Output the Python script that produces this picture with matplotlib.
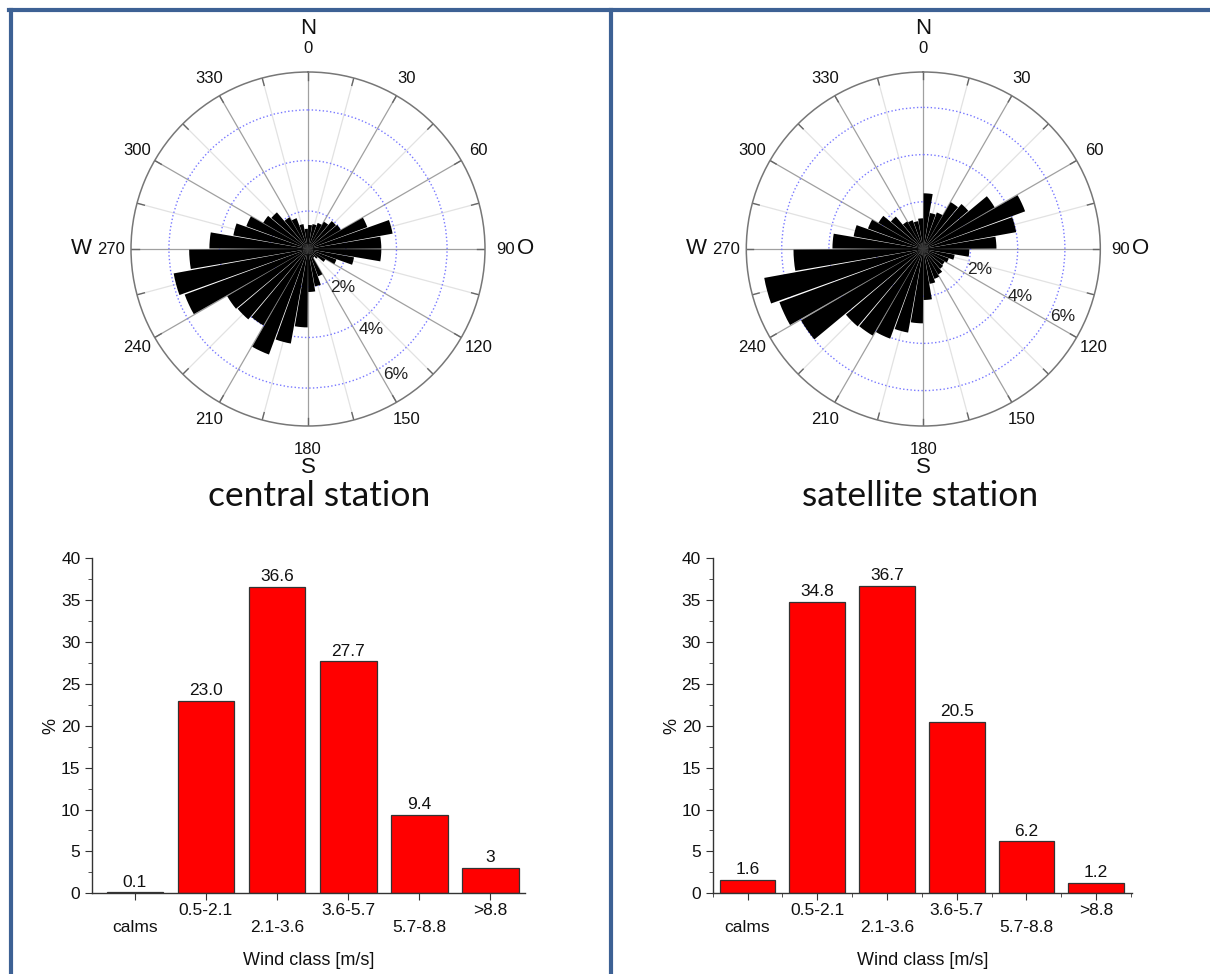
import numpy as np
import matplotlib
matplotlib.use("Agg")
import matplotlib.pyplot as plt
from matplotlib.lines import Line2D

plt.rcParams['font.family'] = ['Liberation Sans', 'DejaVu Sans']

# ---- wind direction frequency (%), sectors centred on 5, 15, ..., 355 deg ----
sector_deg = np.arange(5, 360, 10)
central_dir_pct = [1.45, 1.5, 1.6, 1.75, 1.95, 2.0, 3.0, 3.9, 3.4, 3.4,
                   2.35, 1.7, 1.3, 1.0, 0.9, 1.65, 2.0, 2.2, 3.6, 4.3,
                   4.95, 4.0, 4.15, 4.2, 5.7, 5.9, 5.2, 4.4, 3.5, 3.1,
                   2.55, 2.4, 1.95, 1.8, 1.5, 1.3]
satellite_dir_pct = [2.36, 1.55, 1.65, 2.3, 2.5, 3.5, 4.6, 4.0, 3.1, 1.95,
                     1.35, 1.15, 1.05, 1.1, 1.25, 1.35, 1.5, 2.16, 3.15, 3.6,
                     4.05, 4.25, 4.3, 6.0, 6.5, 6.85, 5.5, 3.85, 3.0, 2.5,
                     2.2, 1.8, 1.35, 1.3, 1.2, 1.3]
angle_labels = np.arange(0, 360, 30)

# ---- wind speed classes (%) ----
wind_classes = ['calms', '0.5-2.1', '2.1-3.6', '3.6-5.7', '5.7-8.8', '>8.8']
central_speed_pct = [0.1, 23.0, 36.6, 27.7, 9.4, 3]
satellite_speed_pct = [1.6, 34.8, 36.7, 20.5, 6.2, 1.2]

W, H = 1210, 974
fig = plt.figure(figsize=(W / 100, H / 100), dpi=100)


def px_rect(x0, y0, x1, y1):
    # pixel box (top-left origin) -> figure fraction rect
    return [x0 / W, 1 - y1 / H, (x1 - x0) / W, (y1 - y0) / H]


def wind_rose(rect, values, rmin, rlabel_pos, title, title_x):
    ax = fig.add_axes(rect, projection='polar')
    ax.set_theta_zero_location('N')
    ax.set_theta_direction(-1)
    rmax = 7.5
    ax.set_ylim(rmin, rmax)
    ax.set_axisbelow(True)

    th = np.deg2rad(sector_deg)
    vals = np.array(values)
    ax.bar(th, vals - rmin, width=np.deg2rad(9.4), bottom=rmin,
           color='black', edgecolor='none', zorder=3)

    # angular grid: labelled every 30 deg, light lines in between
    ax.set_thetagrids(angle_labels, [''] * len(angle_labels))
    ax.xaxis.grid(True, color='#a0a0a0', lw=0.9)
    ax.tick_params(axis='x', length=0)
    for a in range(15, 360, 30):
        ax.plot([np.deg2rad(a)] * 2, [rmin, rmax], color='#e2e2e2',
                lw=0.9, zorder=0.5)
    for a in range(0, 360, 15):
        ax.plot([np.deg2rad(a)] * 2, [rmax - 0.3, rmax], color='#666666',
                lw=1.0, zorder=1)
    for a in angle_labels:
        b = np.deg2rad(a)
        d = 0.557 if a % 180 else 0.567
        ax.text(0.5 + d * np.sin(b), 0.5 + d * np.cos(b), str(a),
                transform=ax.transAxes, ha='center', va='center',
                fontsize=12, color='#111111')

    # radial rings
    ax.set_rgrids([2, 4, 6], labels=['', '', ''])
    ax.yaxis.grid(True, color='#7878ff', ls=':', lw=1.0)
    for r, ang in zip([2, 4, 6], rlabel_pos):
        ax.text(np.deg2rad(ang), r + 0.55, f'{r}%', ha='center',
                va='center', fontsize=12.5, color='#222222', zorder=4)
    ax.spines['polar'].set_color('#777777')
    ax.spines['polar'].set_linewidth(1.1)

    kw = dict(transform=ax.transAxes, ha='center', va='center',
              fontsize=16, color='#111111')
    ax.text(0.5, 1.124, 'N', **kw)
    ax.text(0.5, -0.118, 'S', **kw)
    ax.text(-0.14, 0.5, 'W', **kw)
    ax.text(1.114, 0.5, 'O', **kw)

    fig.text(title_x, 1 - 496 / H, title, ha='center', va='center',
             fontsize=25.5, family=['Lato', 'DejaVu Sans'],
             color='#111111')
    return ax


wind_rose(px_rect(131, 72, 485, 426), central_dir_pct, 0.5,
          [138, 142, 145], 'central station', 319 / W)
wind_rose(px_rect(746.3, 72, 1100.3, 426), satellite_dir_pct, 0.0,
          [110, 116, 116], 'satellite station', 920 / W)


def speed_bars(rect, values, xlim, minor_x):
    ax = fig.add_axes(rect)
    x = np.arange(len(wind_classes))
    bars = ax.bar(x, values, width=0.8, color='#ff0000',
                  edgecolor='#333333', lw=0.9)
    for b, v in zip(bars, values):
        ax.annotate(str(v), (b.get_x() + b.get_width() / 2, b.get_height()),
                    xytext=(0, 2), textcoords='offset points',
                    ha='center', va='bottom', fontsize=12.5, color='#111111')
    ax.set_xlim(*xlim)
    ax.set_ylim(0, 40)
    ax.set_yticks(np.arange(0, 41, 5))
    ax.set_yticks(np.arange(2.5, 40, 5), minor=True)
    ax.set_xticks(x)
    # alternate the class labels between two rows
    ax.set_xticklabels([lab if i % 2 else '\n' + lab
                        for i, lab in enumerate(wind_classes)])
    if minor_x:
        ax.set_xticks(np.arange(-0.5, 5.6, 1.0), minor=True)
    for s in ['top', 'right']:
        ax.spines[s].set_visible(False)
    for s in ['left', 'bottom']:
        ax.spines[s].set_color('#333333')
        ax.spines[s].set_linewidth(1.0)
    ax.tick_params(which='both', direction='out', colors='#333333',
                   labelcolor='#111111', labelsize=12.5)
    ax.tick_params(which='major', length=5)
    ax.tick_params(which='minor', length=3)
    ax.tick_params(axis='x', pad=2)
    ax.set_xlabel('Wind class [m/s]', fontsize=13, color='#111111',
                  labelpad=12)
    ax.set_ylabel('%', fontsize=13, color='#111111', labelpad=1)
    return ax


speed_bars(px_rect(92.3, 558.3, 525, 893.3), central_speed_pct,
           (-0.6, 5.49), False)
speed_bars(px_rect(712.7, 558.3, 1131.7, 893.3), satellite_speed_pct,
           (-0.5, 5.51), True)

# slide frame: outer border and divider
frame_col = '#3d6194'
fig.add_artist(Line2D([10.5 / W, 10.5 / W], [0, 1 - 9.5 / H],
                      color=frame_col, lw=3, transform=fig.transFigure))
fig.add_artist(Line2D([9 / W, 1], [1 - 9.5 / H, 1 - 9.5 / H],
                      color=frame_col, lw=3, transform=fig.transFigure))
fig.add_artist(Line2D([611.5 / W, 611.5 / W], [0, 1 - 9.5 / H],
                      color=frame_col, lw=3, transform=fig.transFigure))

fig.savefig('out.png', dpi=100)
